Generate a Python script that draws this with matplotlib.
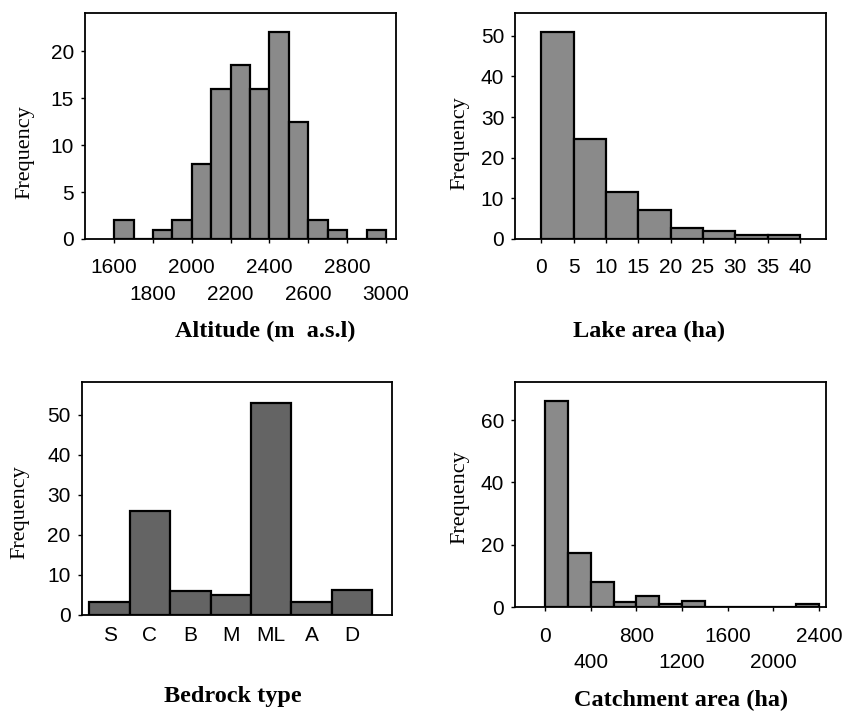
import matplotlib
matplotlib.use('Agg')
import matplotlib.pyplot as plt
import numpy as np

# Altitude histogram (bin left edges, width 100)
alt_edges = [1600, 1700, 1800, 1900, 2000, 2100, 2200, 2300, 2400, 2500, 2600, 2700, 2800, 2900, 3000]
alt_counts = [2, 0, 1, 2, 8, 16, 18.5, 16, 22, 12.5, 2, 1, 0, 1]
alt_ticks_top = [1600, 2000, 2400, 2800]
alt_ticks_low = [1800, 2200, 2600, 3000]

# Lake area histogram (width 5)
lake_edges = [0, 5, 10, 15, 20, 25, 30, 35, 40]
lake_counts = [51, 24.6, 11.6, 7.2, 2.8, 2, 1, 1]
lake_ticks = [0, 5, 10, 15, 20, 25, 30, 35, 40]

# Bedrock type
bedrock_types = ['S', 'C', 'B', 'M', 'ML', 'A', 'D']
bedrock_counts = [3.2, 26, 6, 5, 53, 3.2, 6.2]

# Catchment area histogram (width 200)
catch_edges = [0, 200, 400, 600, 800, 1000, 1200, 1400, 1600, 1800, 2000, 2200, 2400]
catch_counts = [66, 17.3, 8, 1.8, 3.6, 1, 2, 0, 0, 0, 0, 1]
catch_ticks_top = [0, 800, 1600, 2400]
catch_ticks_low = [400, 1200, 2000]

light = '#8a8a8a'
dark = '#646464'
tick_font = 'Liberation Sans'
label_font = 'Liberation Serif'

fig = plt.figure(figsize=(8.42, 7.11), dpi=100)
W, H = 842.0, 711.0


def make_ax(left, top, right, bottom):
    return fig.add_axes([left / W, 1 - bottom / H, (right - left) / W, (bottom - top) / H])


def style(ax, xlabel, xl_pos, ylab_pos):
    for s in ax.spines.values():
        s.set_linewidth(1.3)
    ax.tick_params(axis='y', direction='out', length=3, width=1, pad=5, labelsize=15)
    for t in (ax.get_xticklabels() + ax.get_yticklabels()
              + ax.get_xticklabels(minor=True)):
        t.set_fontfamily(tick_font)
    ax.set_ylabel('Frequency', fontsize=16, family=label_font)
    ax.yaxis.set_label_coords(*ylab_pos)
    ax.set_xlabel(xlabel, fontsize=17.5, family=label_font, fontweight='bold')
    ax.xaxis.set_label_coords(*xl_pos)


def two_rows(ax, top, low):
    # alternate labels: first row on major ticks, second row on minor ticks
    ax.set_xticks(top)
    ax.set_xticks(low, minor=True)
    ax.set_xticklabels([str(t) for t in top])
    ax.set_xticklabels([str(t) for t in low], minor=True)
    ax.tick_params(axis='x', which='major', direction='out', length=3, width=1,
                   pad=11, labelsize=15)
    ax.tick_params(axis='x', which='minor', direction='out', length=3, width=1,
                   pad=30, labelsize=15)


# Altitude
ax1 = make_ax(85, 12.7, 395.7, 239)
ax1.bar(alt_edges[:-1], alt_counts, width=100, align='edge', color=light,
        edgecolor='black', linewidth=1.6)
ax1.set_xlim(1450, 3050)
ax1.set_ylim(0, 24.1)
ax1.set_yticks([0, 5, 10, 15, 20])
two_rows(ax1, alt_ticks_top, alt_ticks_low)
style(ax1, 'Altitude (m  a.s.l)', (0.579, -0.362), (-0.162, 0.384))

# Lake area
ax2 = make_ax(515.3, 12.7, 826, 239)
ax2.bar(lake_edges[:-1], lake_counts, width=5, align='edge', color=light,
        edgecolor='black', linewidth=1.6)
ax2.set_xlim(-4, 44)
ax2.set_ylim(0, 55.7)
ax2.set_yticks([0, 10, 20, 30, 40, 50])
ax2.set_xticks(lake_ticks)
ax2.tick_params(axis='x', direction='out', length=3, width=1, pad=11, labelsize=15)
style(ax2, 'Lake area (ha)', (0.429, -0.362), (-0.148, 0.424))

# Bedrock
ax3 = make_ax(81.7, 381.7, 392.3, 615)
x = np.arange(len(bedrock_types))
ax3.bar(x, bedrock_counts, width=1.0, color=dark, edgecolor='black', linewidth=1.6)
ax3.set_xlim(-0.69, 7.0)
ax3.set_ylim(0, 58.3)
ax3.set_yticks([0, 10, 20, 30, 40, 50])
ax3.set_xticks(x)
ax3.set_xticklabels(bedrock_types)
ax3.tick_params(axis='x', length=0, pad=8, labelsize=15)
style(ax3, 'Bedrock type', (0.487, -0.303), (-0.167, 0.44))

# Catchment area
ax4 = make_ax(515.3, 381.7, 826, 607.3)
ax4.bar(catch_edges[:-1], catch_counts, width=200, align='edge', color=light,
        edgecolor='black', linewidth=1.6)
ax4.set_xlim(-260, 2460)
ax4.set_ylim(0, 72.3)
ax4.set_yticks([0, 20, 40, 60])
two_rows(ax4, catch_ticks_top, catch_ticks_low)
style(ax4, 'Catchment area (ha)', (0.533, -0.368), (-0.148, 0.489))

fig.savefig('out.png', dpi=100)
